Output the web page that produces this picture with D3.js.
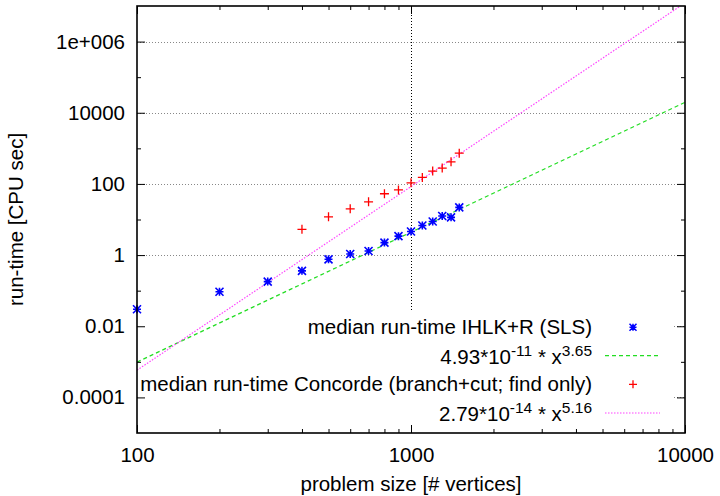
<!DOCTYPE html>
<html>
<head>
<meta charset="utf-8">
<script src="https://cdn.jsdelivr.net/npm/d3@7"></script>
<style>
  body { margin: 0; background: #fff; }
  text { font-family: "Liberation Sans", Arial, sans-serif; }
</style>
</head>
<body>
<div id="chart"></div>
<script>
// problem sizes (# vertices)
const sizes = [100, 200, 300, 400, 500, 600, 700, 800, 900, 1000, 1100, 1200, 1300, 1400, 1500];
// median run-time IHLK+R (SLS), CPU sec
const ihlkTimes = [0.030, 0.093, 0.18, 0.36, 0.76, 1.07, 1.3, 2.24, 3.4, 4.6, 6.8, 8.8, 12.5, 11.5, 21.9];
// median run-time Concorde, CPU sec (no runs below 400)
const concordeTimes = [null, null, null, 5.3, 11.9, 20, 31.4, 53, 68, 107, 152, 229, 278, 418, 733];
// fitted power laws a * x^b
const fitCoef = [4.93e-11, 2.79e-14];
const fitExp = [3.65, 5.16];
const fitCoefLabel = ["4.93*10", "2.79*10"];
const fitCoefExpLabel = ["-11", "-14"];
const fitExpLabel = ["3.65", "5.16"];

const xTicks = [100, 1000, 10000];
const xMinor = [200, 300, 400, 500, 600, 700, 800, 900, 2000, 3000, 4000, 5000, 6000, 7000, 8000, 9000];
const yTicks = [1e6, 1e4, 100, 1, 0.01, 0.0001];
const yTickLabels = ["1e+006", "10000", "100", "1", "0.01", "0.0001"];
const yMinor = [1e5, 1e3, 10, 0.1, 0.001];

const W = 720, H = 496;
const margin = {top: 6, right: 35, bottom: 63, left: 137},
    width = W - margin.left - margin.right,
    height = H - margin.top - margin.bottom;

const svg = d3.select("#chart").append("svg")
    .attr("width", W)
    .attr("height", H);

const g = svg.append("g")
    .attr("transform", `translate(${margin.left}, ${margin.top})`);

const x = d3.scaleLog().domain([100, 10000]).range([0, width]);
const y = d3.scaleLog().domain([1e-5, 1e7]).range([height, 0]);

const fs = 20.5;

// grid
g.append("g").selectAll("line")
    .data(yTicks)
    .enter().append("line")
        .attr("x1", 0).attr("x2", width)
        .attr("y1", d => Math.round(y(d)) + 0.5).attr("y2", d => Math.round(y(d)) + 0.5)
        .attr("stroke", "#888").attr("stroke-width", 1)
        .attr("stroke-dasharray", "1,2");
g.append("line")
    .attr("x1", Math.round(x(1000)) + 0.5).attr("x2", Math.round(x(1000)) + 0.5)
    .attr("y1", 0).attr("y2", height)
    .attr("stroke", "#000").attr("stroke-width", 1)
    .attr("stroke-dasharray", "1,2");

// opaque key box (hides grid only)
g.append("rect")
    .attr("x", 1).attr("y", 312 - margin.top)
    .attr("width", 673 - margin.left).attr("height", 114)
    .attr("fill", "#fff");

// fit lines
const fitColors = ["#22dd22", "#ff44ff"];
const fitDash = ["4,3", "1.5,1.5"];
const clip = svg.append("clipPath").attr("id", "clip")
    .append("rect").attr("width", width).attr("height", height);
fitCoef.forEach((a, i) => {
    const f = v => a * Math.pow(v, fitExp[i]);
    g.append("line")
        .attr("clip-path", "url(#clip)")
        .attr("x1", x(100)).attr("y1", y(f(100)))
        .attr("x2", x(10000)).attr("y2", y(f(10000)))
        .attr("stroke", fitColors[i])
        .attr("stroke-width", 1.2)
        .attr("stroke-dasharray", fitDash[i]);
});

// point symbols
const star = (cx, cy, r) => `M${cx - r},${cy}H${cx + r}M${cx},${cy - r}V${cy + r}` +
    `M${cx - r},${cy - r}L${cx + r},${cy + r}M${cx - r},${cy + r}L${cx + r},${cy - r}`;
const plus = (cx, cy, r) => `M${cx - r},${cy}H${cx + r}M${cx},${cy - r}V${cy + r}`;

g.append("g").selectAll("path")
    .data(sizes.map((s, i) => [s, ihlkTimes[i]]))
    .enter().append("path")
        .attr("d", d => star(x(d[0]), y(d[1]), 4))
        .attr("stroke", "#0000ff").attr("stroke-width", 1.6)
        .attr("fill", "none");

g.append("g").selectAll("path")
    .data(sizes.map((s, i) => [s, concordeTimes[i]]).filter(d => d[1] != null))
    .enter().append("path")
        .attr("d", d => plus(x(d[0]), y(d[1]), 4.5))
        .attr("stroke", "#ff0000").attr("stroke-width", 1.3)
        .attr("fill", "none");

// axes
const yAxis = d3.axisLeft(y).tickValues(yTicks)
    .tickFormat((d, i) => yTickLabels[i]).tickSizeInner(-8).tickSizeOuter(0).tickPadding(12);
const yAxisR = d3.axisRight(y).tickValues(yTicks).tickFormat("").tickSizeInner(-8).tickSizeOuter(0);
const yMinL = d3.axisLeft(y).tickValues(yMinor).tickFormat("").tickSizeInner(-4).tickSizeOuter(0);
const yMinR = d3.axisRight(y).tickValues(yMinor).tickFormat("").tickSizeInner(-4).tickSizeOuter(0);
const xAxis = d3.axisBottom(x).tickValues(xTicks).tickFormat(d3.format("d"))
    .tickSizeInner(-8).tickSizeOuter(0).tickPadding(14);
const xAxisT = d3.axisTop(x).tickValues(xTicks).tickFormat("").tickSizeInner(-8).tickSizeOuter(0);
const xMinB = d3.axisBottom(x).tickValues(xMinor).tickFormat("").tickSizeInner(-4).tickSizeOuter(0);
const xMinT = d3.axisTop(x).tickValues(xMinor).tickFormat("").tickSizeInner(-4).tickSizeOuter(0);

const axes = [
    [yAxis, "translate(0,0)"], [yAxisR, `translate(${width},0)`],
    [yMinL, "translate(0,0)"], [yMinR, `translate(${width},0)`],
    [xAxis, `translate(0,${height})`], [xAxisT, "translate(0,0)"],
    [xMinB, `translate(0,${height})`], [xMinT, "translate(0,0)"]
];
axes.forEach(a => {
    const ag = g.append("g").attr("transform", a[1]).call(a[0]);
    ag.select(".domain").remove();
    ag.selectAll("line").attr("stroke", "#000").attr("stroke-width", 1);
    ag.selectAll("text").attr("font-size", fs).attr("fill", "#000")
        .style("font-family", "Liberation Sans, Arial, sans-serif");
});

// frame
g.append("rect")
    .attr("x", 0).attr("y", 0).attr("width", width).attr("height", height)
    .attr("fill", "none").attr("stroke", "#000").attr("stroke-width", 1.6);

// axis labels
svg.append("text")
    .attr("text-anchor", "middle")
    .attr("x", margin.left + width / 2)
    .attr("y", 491)
    .attr("font-size", fs)
    .text("problem size [# vertices]");
svg.append("text")
    .attr("text-anchor", "middle")
    .attr("transform", `translate(23, ${margin.top + height / 2}) rotate(-90)`)
    .attr("font-size", fs)
    .text("run-time [CPU sec]");

// legend
const keyRows = [327.3, 355.7, 384.3, 413];
const keyTextX = 592, keySymX = 633, keyLine = [605, 660];
const keyNames = ["median run-time IHLK+R (SLS)", "median run-time Concorde (branch+cut; find only)"];
const key = svg.append("g");
keyNames.forEach((name, i) => {
    const rowP = keyRows[i * 2], rowF = keyRows[i * 2 + 1];
    key.append("text")
        .attr("text-anchor", "end")
        .attr("x", keyTextX).attr("y", rowP + 6.5)
        .attr("font-size", fs)
        .text(name);
    key.append("path")
        .attr("d", i === 0 ? star(keySymX, rowP, 3.5) : plus(keySymX, rowP, 4))
        .attr("stroke", i === 0 ? "#0000ff" : "#ff0000")
        .attr("stroke-width", i === 0 ? 1.5 : 1.3)
        .attr("fill", "none");

    const t = key.append("text")
        .attr("text-anchor", "end")
        .attr("x", keyTextX).attr("y", rowF + 7.8)
        .attr("font-size", fs);
    t.append("tspan").text(fitCoefLabel[i]);
    t.append("tspan").attr("font-size", 15.5).attr("dy", -8).text(fitCoefExpLabel[i]);
    t.append("tspan").attr("dy", 8).text(" * x");
    t.append("tspan").attr("font-size", 15.5).attr("dy", -8).text(fitExpLabel[i]);

    key.append("line")
        .attr("x1", keyLine[0]).attr("x2", keyLine[1])
        .attr("y1", rowF).attr("y2", rowF)
        .attr("stroke", fitColors[i]).attr("stroke-width", 1.2)
        .attr("stroke-dasharray", fitDash[i]);
});
</script>
</body>
</html>
